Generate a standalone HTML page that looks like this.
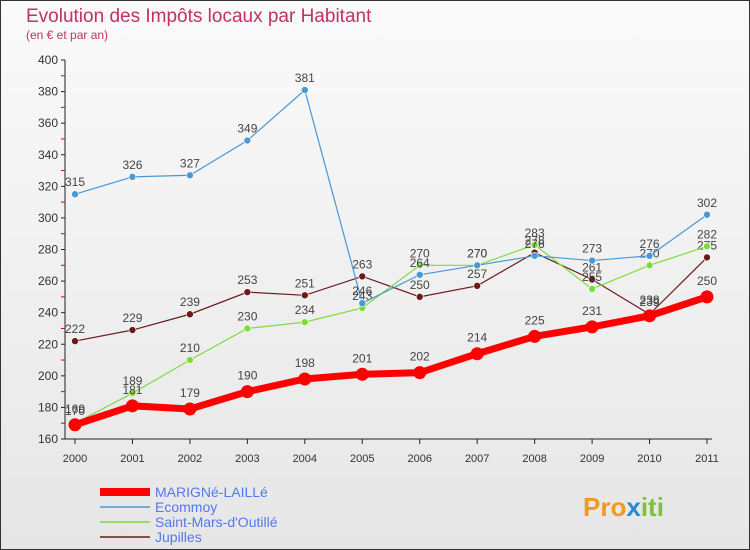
<!DOCTYPE html>
<html><head><meta charset="utf-8"><style>
body{margin:0}
#c{width:750px;height:550px;position:relative;overflow:hidden;font-family:"Liberation Sans",sans-serif;background:linear-gradient(#fafafa,#e6e6e6);box-sizing:border-box;border:1px solid #333}
</style></head><body>
<div id="c">
<svg id="s" width="750" height="550" style="position:absolute;left:-1px;top:-1px">
<text x="26" y="22" font-size="19" fill="#c0306a">Evolution des Impôts locaux par Habitant</text>
<text x="26" y="39" font-size="12" fill="#c0306a">(en € et par an)</text>
<g id="axes"></g><g id="series"></g>
<g id="legend"></g>
<text x="583" y="516" font-size="26" font-weight="bold" fill="#f39a1e">Pro<tspan fill="#2a8ad0">x</tspan><tspan fill="#7cc23b">iti</tspan></text>
</svg>
</div>
<script>
const years=[2000,2001,2002,2003,2004,2005,2006,2007,2008,2009,2010,2011];
const yTicks=[160,180,200,220,240,260,280,300,320,340,360,380,400];
const marigne=[169,181,179,190,198,201,202,214,225,231,238,250];
const ecommoy=[315,326,327,349,381,246,264,270,276,273,276,302];
const saintMars=[170,189,210,230,234,243,270,270,283,255,270,282];
const jupilles=[222,229,239,253,251,263,250,257,278,261,239,275];
const names=["MARIGNé-LAILLé","Ecommoy","Saint-Mars-d'Outillé","Jupilles"];
const NS="http://www.w3.org/2000/svg";
const x=i=>75+i*(707-75)/(years.length-1);
const y=v=>439-(v-160)*(439-60)/240;
function mk(t,a,p){const e=document.createElementNS(NS,t);for(const k in a)e.setAttribute(k,a[k]);p.appendChild(e);return e;}
const ax=document.getElementById('axes');
const yl=mk('line',{x1:65,y1:60,x2:65,y2:439,stroke:'#222'},ax);


const xl=mk('line',{x1:65,y1:439,x2:712,y2:439,stroke:'#222'},ax);


yTicks.forEach((v,k)=>{
 mk('line',{x1:61,y1:y(v),x2:65,y2:y(v),stroke:'#222'},ax);
 if(k<yTicks.length-1) mk('line',{x1:61,y1:y(v+10),x2:65,y2:y(v+10),stroke:'#d00'},ax);
 const t=mk('text',{x:58,y:y(v)+4,'font-size':12,'text-anchor':'end',fill:'#333'},ax);
 t.textContent=v;
 
 
});
years.forEach((yr,i)=>{
 mk('line',{x1:x(i),y1:439,x2:x(i),y2:444,stroke:'#222'},ax);
 const t=mk('text',{x:x(i),y:462,'font-size':11,'text-anchor':'middle',fill:'#333'},ax);
 t.textContent=yr;
 
 
});
const sg=document.getElementById('series');
const defs=[[jupilles,'#6b1a1a',1.2,3.5,'jupilles'],[saintMars,'#7ddc3c',1.2,3.5,'saint-mars'],[ecommoy,'#4a98d4',1.2,3.5,'ecommoy'],[marigne,'#ff0000',7,6.5,'marigne']];
defs.forEach(([d,c,w,r,n])=>{
 const g=mk('g',{},sg);
 
 
 const p=mk('polyline',{points:d.map((v,i)=>x(i)+','+y(v)).join(' '),fill:'none',stroke:c,'stroke-width':w},g);
 
 
 d.forEach((v,i)=>{
  const ci=mk('circle',{cx:x(i),cy:y(v),r:r,fill:c,stroke:r<5?'#fff':'none','stroke-width':0.6},g);
  
  
  const t=mk('text',{x:x(i),y:y(v)-(r<5?8:12),'font-size':12,'text-anchor':'middle',fill:'#444'},g);
  t.textContent=v;
  
  
 });
});
const lg=document.getElementById('legend');
const lc=['#ff0000','#4a98d4','#7ddc3c','#6b1a1a'],lw=[8,1.5,1.5,1.5];
names.forEach((n,i)=>{
 const yy=492+i*15;
 const l=mk('line',{x1:100,y1:yy,x2:150,y2:yy,stroke:lc[i],'stroke-width':lw[i]},lg);
 
 
 const t=mk('text',{x:155,y:yy+5,'font-size':14,fill:'#5577ee'},lg);
 t.textContent=n;
 
 
});
</script>
</body></html>
